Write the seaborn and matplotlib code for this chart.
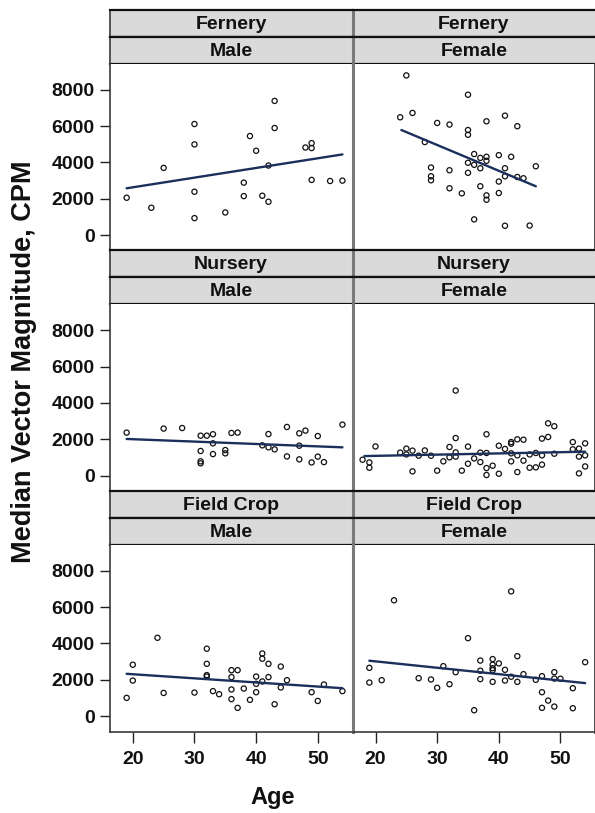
import matplotlib
matplotlib.use("Agg")
import matplotlib.pyplot as plt
import seaborn as sns
import pandas as pd

sns.set_theme(style="white")
plt.rcParams['font.family'] = ['Liberation Sans', 'DejaVu Sans']
plt.rcParams['font.weight'] = 'bold'

# ---------------- data ----------------
sites = ["Fernery", "Nursery", "Field Crop"]
sexes = ["Male", "Female"]

fernery_male_age = [19, 23, 25, 30, 30, 30, 30, 35, 38, 38, 39, 40, 41, 42, 42, 43, 43, 48, 49, 49, 49, 52, 54]
fernery_male_cpm = [2060, 1510, 3700, 6110, 4990, 2390, 940, 1250, 2890, 2150, 5450, 4640, 2170, 3830, 1840,
                    7380, 5890, 4820, 5060, 4790, 3040, 2980, 3000]

fernery_female_age = [25, 24, 26, 28, 30, 29, 29, 29, 32, 32, 32, 34, 35, 35, 35, 35, 35, 36, 36, 36, 37, 37, 37,
                      38, 38, 38, 38, 38, 40, 40, 40, 41, 41, 41, 41, 42, 43, 43, 44, 45, 46]
fernery_female_cpm = [8780, 6480, 6720, 5120, 6170, 3720, 3240, 3020, 6080, 3570, 2580, 2300, 7720, 5780, 5520,
                      3980, 3430, 4460, 3870, 870, 4250, 3680, 2690, 6260, 4310, 4090, 2190, 1950, 4400, 2950,
                      2320, 6570, 3680, 3240, 520, 4310, 5990, 3200, 3130, 530, 3790]

nursery_male_age = [19, 25, 28, 31, 31, 31, 31, 32, 33, 33, 33, 35, 35, 36, 37, 41, 42, 42, 43, 45, 45, 47, 47,
                    47, 48, 49, 50, 50, 51, 54]
nursery_male_cpm = [2370, 2590, 2620, 2200, 1360, 790, 680, 2200, 2280, 1780, 1190, 1410, 1230, 2350, 2370, 1670,
                    2290, 1560, 1450, 2680, 1060, 2330, 1650, 900, 2480, 730, 2180, 1050, 750, 2810]

nursery_female_age = [17.9, 19, 19, 20, 24, 25, 25, 26, 26, 27, 28, 29, 30, 31, 32, 32, 33, 33, 33, 33, 34, 35, 35,
                      36, 37, 37, 38, 38, 38, 38, 39, 40, 40, 41, 42, 42, 42, 42, 43, 43, 43, 44, 44, 45, 45, 46,
                      46, 47, 47, 47, 48, 48, 49, 49, 52, 52, 53, 53, 53, 54, 54, 54]
nursery_female_cpm = [880, 730, 440, 1610, 1270, 1490, 1170, 1380, 240, 1100, 1390, 1100, 280, 790, 1580, 1010,
                      4680, 2070, 1280, 1050, 280, 1600, 660, 950, 1270, 750, 2280, 1250, 420, 40, 550, 1650, 110,
                      1470, 1850, 1760, 1230, 790, 2000, 1120, 200, 1980, 830, 1170, 440, 1250, 460, 2040, 1120, 610,
                      2880, 2130, 2720, 1210, 1850, 1450, 1490, 1050, 130, 1780, 1120, 510]

field_male_age = [19, 20, 20, 24, 25, 30, 32, 32, 32, 32, 33, 34, 36, 36, 36, 36, 37, 37, 38, 39, 40, 40, 40, 41,
                  41, 41, 42, 42, 43, 44, 44, 45, 49, 50, 51, 54]
field_male_cpm = [1010, 2830, 1960, 4310, 1280, 1300, 3710, 2880, 2260, 2180, 1380, 1210, 2530, 2150, 1470, 940,
                  2530, 460, 1520, 900, 2180, 1780, 1320, 3450, 3160, 1910, 2880, 2150, 660, 2730, 1580, 1980, 1320,
                  840, 1740, 1380]

field_female_age = [19, 19, 21, 23, 27, 29, 30, 31, 32, 33, 35, 36, 37, 37, 37, 39, 39, 39, 39, 39, 40, 41, 41, 42,
                    42, 43, 43, 44, 46, 47, 47, 47, 48, 49, 49, 49, 50, 52, 52, 54]
field_female_cpm = [2660, 1850, 1980, 6370, 2090, 2020, 1560, 2750, 1760, 2420, 4290, 330, 3060, 2500, 2040, 3140,
                    2830, 2640, 2530, 1890, 2900, 2550, 1960, 6860, 2170, 3300, 1890, 2310, 2000, 2200, 1320, 460,
                    860, 2420, 2070, 530, 2060, 1540, 440, 2970]

# fitted regression lines as drawn (age at ends, predicted CPM at ends)
fit_age = {
    ("Fernery", "Male"): [19, 54], ("Fernery", "Female"): [24.2, 46],
    ("Nursery", "Male"): [19, 54], ("Nursery", "Female"): [18.2, 54],
    ("Field Crop", "Male"): [19, 54], ("Field Crop", "Female"): [19, 54],
}
fit_cpm = {
    ("Fernery", "Male"): [2580, 4440], ("Fernery", "Female"): [5780, 2690],
    ("Nursery", "Male"): [2020, 1560], ("Nursery", "Female"): [1080, 1320],
    ("Field Crop", "Male"): [2330, 1540], ("Field Crop", "Female"): [3050, 1820],
}

panel_data = {
    ("Fernery", "Male"): (fernery_male_age, fernery_male_cpm),
    ("Fernery", "Female"): (fernery_female_age, fernery_female_cpm),
    ("Nursery", "Male"): (nursery_male_age, nursery_male_cpm),
    ("Nursery", "Female"): (nursery_female_age, nursery_female_cpm),
    ("Field Crop", "Male"): (field_male_age, field_male_cpm),
    ("Field Crop", "Female"): (field_female_age, field_female_cpm),
}

y_ticks = [0, 2000, 4000, 6000, 8000]
x_ticks = [20, 30, 40, 50]

# ---------------- layout (pixels) ----------------
W, H = 595, 813
fig = plt.figure(figsize=(W / 100, H / 100), dpi=100)

col_x = [110, 352.7]
col_w = 242.3
row_top = [10, 250.5, 491]
strip_h = 26.8
panel_h = 240.7 - 2 * strip_h
line_col = "#1b2f5c"
frame_col = "#3a3a3a"
div_col = "#7a7a7a"


def fx(px):
    return px / W


def fy(py):
    return 1 - py / H


for r, site in enumerate(sites):
    for c, sex in enumerate(sexes):
        x0 = col_x[c]
        top = row_top[r]
        # strips
        for k, label in enumerate([site, sex]):
            st = top + k * strip_h
            sax = fig.add_axes([fx(x0), fy(st + strip_h), col_w / W, strip_h / H])
            sax.set_facecolor("#dadada")
            sax.set_xticks([]); sax.set_yticks([])
            for s in sax.spines.values():
                s.set_visible(False)
            sax.spines["top"].set_visible(True)
            sax.spines["bottom"].set_visible(True)
            sax.spines["top"].set_color("#111111"); sax.spines["top"].set_linewidth(1.6)
            sax.spines["bottom"].set_color("#111111"); sax.spines["bottom"].set_linewidth(1.6)
            sax.spines["left"].set_visible(True)
            if c == 0:
                sax.spines["left"].set_color(frame_col); sax.spines["left"].set_linewidth(1.2)
            else:
                sax.spines["left"].set_color(div_col); sax.spines["left"].set_linewidth(2.2)
            sax.text(0.5, 0.47, label, ha="center", va="center", fontsize=14, fontweight="bold",
                     color="#111111", transform=sax.transAxes)

        ptop = top + 2 * strip_h
        ax = fig.add_axes([fx(x0), fy(ptop + panel_h), col_w / W, panel_h / H])
        ages, cpm = panel_data[(site, sex)]
        df = pd.DataFrame({"Age": ages, "CPM": cpm})
        sns.scatterplot(data=df, x="Age", y="CPM", ax=ax, marker="o", s=14,
                        facecolors="none", edgecolor="#111111", linewidth=0.9, zorder=3)
        fdf = pd.DataFrame({"Age": fit_age[(site, sex)], "CPM": fit_cpm[(site, sex)]})
        sns.lineplot(data=fdf, x="Age", y="CPM", ax=ax, color=line_col, linewidth=1.7, zorder=4)
        ax.set_xlim(16.3, 55.6)
        ax.set_ylim(-850, 9430)
        ax.set_xlabel(""); ax.set_ylabel("")
        ax.set_facecolor("white")
        for s in ax.spines.values():
            s.set_color(frame_col); s.set_linewidth(1.2)
        ax.spines["top"].set_visible(False)
        if c == 1:
            ax.spines["left"].set_color(div_col); ax.spines["left"].set_linewidth(2.2)
            ax.spines["right"].set_linewidth(2.0)
        else:
            ax.spines["right"].set_visible(False)
        if r < 2:
            ax.spines["bottom"].set_visible(False)

        if c == 0:
            ax.set_yticks(y_ticks)
            ax.set_yticklabels([str(v) for v in y_ticks], fontsize=14, fontweight="bold", color="#111111")
            ax.tick_params(axis="y", direction="out", length=7, width=1.0, color="#222222", pad=4, left=True)
        else:
            ax.set_yticks([])
        if r == 2:
            ax.set_xticks(x_ticks)
            ax.set_xticklabels([str(v) for v in x_ticks], fontsize=14, fontweight="bold", color="#111111")
            ax.tick_params(axis="x", direction="out", length=8, width=1.0, color="#222222", pad=6, bottom=True)
        else:
            ax.set_xticks([])

fig.text(fx(24), fy(362), "Median Vector Magnitude, CPM", rotation=90, ha="center", va="center",
         fontsize=19.5, fontweight="bold", color="#111111")
fig.text(fx(273), fy(797), "Age", ha="center", va="center", fontsize=17, fontweight="bold", color="#111111")

fig.savefig("out.png", dpi=100)
